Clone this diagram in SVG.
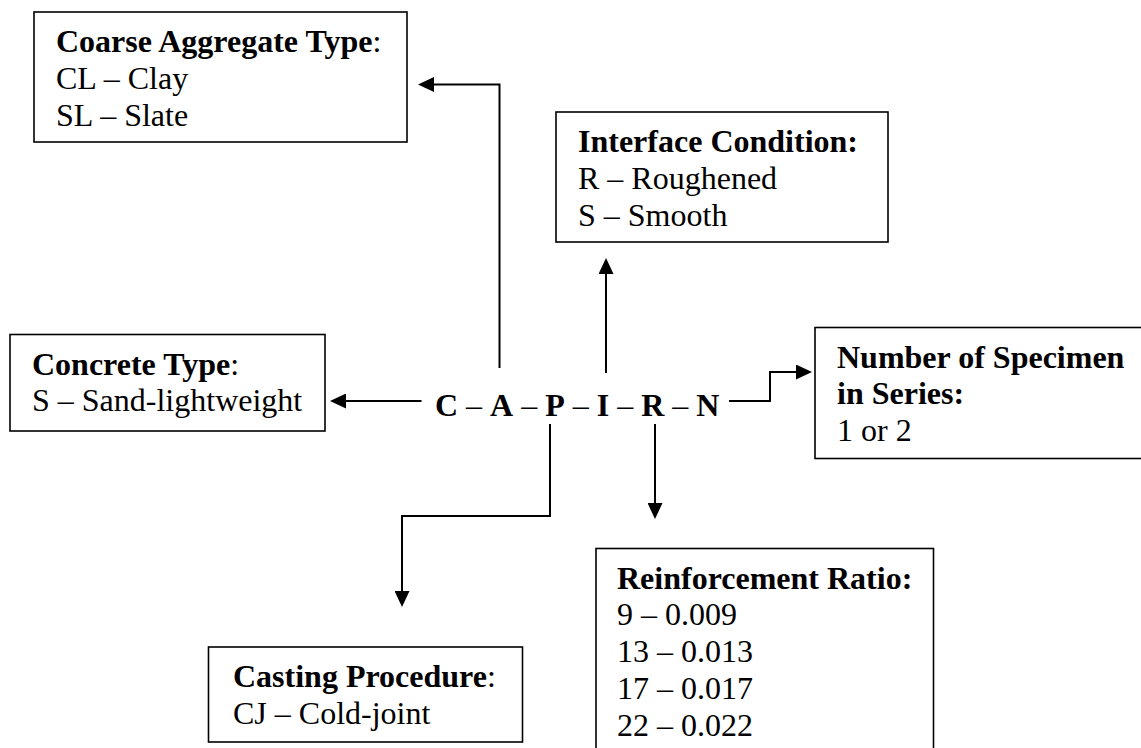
<svg xmlns="http://www.w3.org/2000/svg" width="1141" height="748" viewBox="0 0 1141 748">
  <style>
    text { font-family: "Liberation Serif", "Times New Roman", serif; font-size: 32px; fill: #000; }
    .b { font-weight: bold; }
    .n { font-weight: normal; }
    .box { fill: #fff; stroke: #000; stroke-width: 1.6; }
    .wire { fill: none; stroke: #000; stroke-width: 2; }
  </style>
  <defs>
    <marker id="head" viewBox="0 0 16 15" refX="0" refY="7.5" markerWidth="16" markerHeight="15" markerUnits="userSpaceOnUse" orient="auto">
      <path d="M0,0 L16,7.5 L0,15 z" fill="#000"/>
    </marker>
  </defs>

  <!-- connectors from the specimen code -->
  <g id="connectors">
    <path class="wire" d="M499.5,368 V84.5 H434" marker-end="url(#head)"/>
    <path class="wire" d="M606,373 V274" marker-end="url(#head)"/>
    <path class="wire" d="M421.5,401 H346" marker-end="url(#head)"/>
    <path class="wire" d="M729,401 H770 V372 H796" marker-end="url(#head)"/>
    <path class="wire" d="M550,424 V516 H402 V591" marker-end="url(#head)"/>
    <path class="wire" d="M655,424 V503" marker-end="url(#head)"/>
  </g>

  <!-- specimen code -->
  <g id="code">
    <text x="435" y="416" class="b">C<tspan class="n"> – </tspan>A<tspan class="n"> – </tspan>P<tspan class="n"> – </tspan>I<tspan class="n"> – </tspan>R<tspan class="n"> – </tspan>N</text>
  </g>

  <g id="coarse-aggregate">
    <rect class="box" x="34" y="12" width="373" height="130"/>
    <text x="56" y="52"><tspan class="b">Coarse Aggregate Type</tspan>:</text>
    <text x="56" y="88.8">CL – Clay</text>
    <text x="56" y="125.6">SL – Slate</text>
  </g>

  <g id="interface-condition">
    <rect class="box" x="556" y="112" width="332" height="130"/>
    <text x="578" y="152" class="b">Interface Condition:</text>
    <text x="578" y="188.8">R – Roughened</text>
    <text x="578" y="225.6">S – Smooth</text>
  </g>

  <g id="concrete-type">
    <rect class="box" x="10" y="334.5" width="315" height="96.5"/>
    <text x="32" y="374.5"><tspan class="b">Concrete Type</tspan>:</text>
    <text x="32" y="411.3">S – Sand-lightweight</text>
  </g>

  <g id="specimen-number">
    <rect class="box" x="815" y="327.5" width="340" height="131"/>
    <text x="837" y="367.5" class="b">Number of Specimen</text>
    <text x="837" y="404.3" class="b">in Series:</text>
    <text x="837" y="441.1">1 or 2</text>
  </g>

  <g id="casting-procedure">
    <rect class="box" x="208.5" y="647" width="314" height="95"/>
    <text x="233" y="687"><tspan class="b">Casting Procedure</tspan>:</text>
    <text x="233" y="723.8">CJ – Cold-joint</text>
  </g>

  <g id="reinforcement-ratio">
    <rect class="box" x="596" y="548.5" width="337.5" height="220"/>
    <text x="617" y="588.5" class="b">Reinforcement Ratio:</text>
    <text x="617" y="625.3">9 – 0.009</text>
    <text x="617" y="662.1">13 – 0.013</text>
    <text x="617" y="698.9">17 – 0.017</text>
    <text x="617" y="735.7">22 – 0.022</text>
  </g>
</svg>
